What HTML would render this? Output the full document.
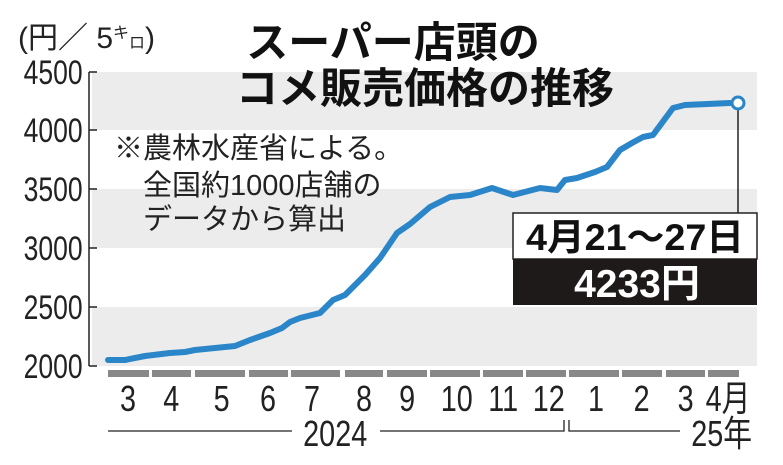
<!DOCTYPE html>
<html><head><meta charset="utf-8"><style>
body{margin:0;background:#fff}
svg{display:block;font-family:"Liberation Sans","Noto Sans CJK JP",sans-serif}
</style></head><body>
<svg width="783" height="465" viewBox="0 0 783 465">
<rect x="92" y="72" width="665" height="58" fill="#ececec"/>
<rect x="92" y="189" width="665" height="59" fill="#ececec"/>
<rect x="92" y="307" width="665" height="59" fill="#ececec"/>
<g stroke="#222" stroke-width="1.5" fill="none">
<path d="M89 72V366M89 72h8M89 130h8M89 189h8M89 248h8M89 307h8M89 366h8"/>
</g>
<g font-size="34" fill="#222" text-anchor="end" transform="scale(0.78,1)">
<text x="106" y="84">4500</text><text x="106" y="142">4000</text><text x="106" y="201">3500</text>
<text x="106" y="260">3000</text><text x="106" y="319">2500</text><text x="106" y="378">2000</text>
</g>
<text x="18" y="48" font-size="30" fill="#222">(円／ 5<tspan font-size="16" dy="-10">キ</tspan><tspan font-size="16" dy="10">ロ</tspan>)</text>
<g font-weight="bold" font-size="42" fill="#111" text-anchor="middle">
<text x="393" y="57">スーパー店頭の</text>
<text x="425" y="103">コメ販売価格の推移</text>
</g>
<g font-size="29" fill="#222">
<text x="114" y="158">※農林水産省による。</text>
<text x="143" y="195">全国約1000店舗の</text>
<text x="143" y="229">データから算出</text>
</g>
<path d="M108 360L125 360L145 356L170 353L185 352L195 350L215 348L235 346L250 340L270 333L282 328L290 322L300 318L320 313L333 300L345 295L355 285L365 275L380 258L397 233L410 224L430 207L450 197L470 195L492 188L513 195L540 188L557 190L565 180L577 178L595 172L607 167L620 150L632 143L643 137L653 135L673 108L685 105L730 103" fill="none" stroke="#2a86c9" stroke-width="6" stroke-linejoin="round" stroke-linecap="round"/>
<line x1="738" y1="103" x2="738" y2="213" stroke="#222" stroke-width="1.5"/>
<circle cx="738" cy="103" r="6" fill="#fff" stroke="#2a86c9" stroke-width="3"/>
<rect x="513" y="213" width="244" height="46" fill="#fff" stroke="#222" stroke-width="1.5"/>
<rect x="513" y="259" width="244" height="46" fill="#1e1a1a"/>
<text x="635" y="250" font-size="37" font-weight="bold" text-anchor="middle" fill="#111" textLength="218" lengthAdjust="spacingAndGlyphs">4月21～27日</text>
<text x="637" y="297" font-size="39" font-weight="bold" text-anchor="middle" fill="#fff">4233円</text>
<g fill="#888">
<rect x="108" y="370" width="41" height="7"/><rect x="152" y="370" width="39" height="7"/><rect x="195" y="370" width="50" height="7"/>
<rect x="249" y="370" width="39" height="7"/><rect x="291" y="370" width="49" height="7"/><rect x="345" y="370" width="38" height="7"/>
<rect x="387" y="370" width="40" height="7"/><rect x="430" y="370" width="50" height="7"/><rect x="483" y="370" width="40" height="7"/>
<rect x="526" y="370" width="40" height="7"/><rect x="569" y="370" width="50" height="7"/><rect x="622" y="370" width="40" height="7"/>
<rect x="666" y="370" width="39" height="7"/><rect x="708" y="370" width="31" height="7"/>
</g>
<g font-size="36" fill="#222" text-anchor="middle">
<g transform="scale(0.8,1)">
<text x="160" y="411">3</text><text x="214" y="411">4</text><text x="277" y="411">5</text><text x="335" y="411">6</text>
<text x="390" y="411">7</text><text x="455" y="411">8</text><text x="509" y="411">9</text><text x="571" y="411">10</text>
<text x="629" y="411">11</text><text x="686" y="411">12</text><text x="745" y="411">1</text><text x="802" y="411">2</text>
<text x="857" y="411">3</text><text x="910" y="411">4月</text>
<text x="419" y="446">2024</text><text x="902" y="446">25年</text>
</g>
</g>
<g stroke="#222" stroke-width="1.3" fill="none">
<path d="M108 431H292M380 431H564V420M569 420V431H680"/>
</g>
</svg>
</body></html>
